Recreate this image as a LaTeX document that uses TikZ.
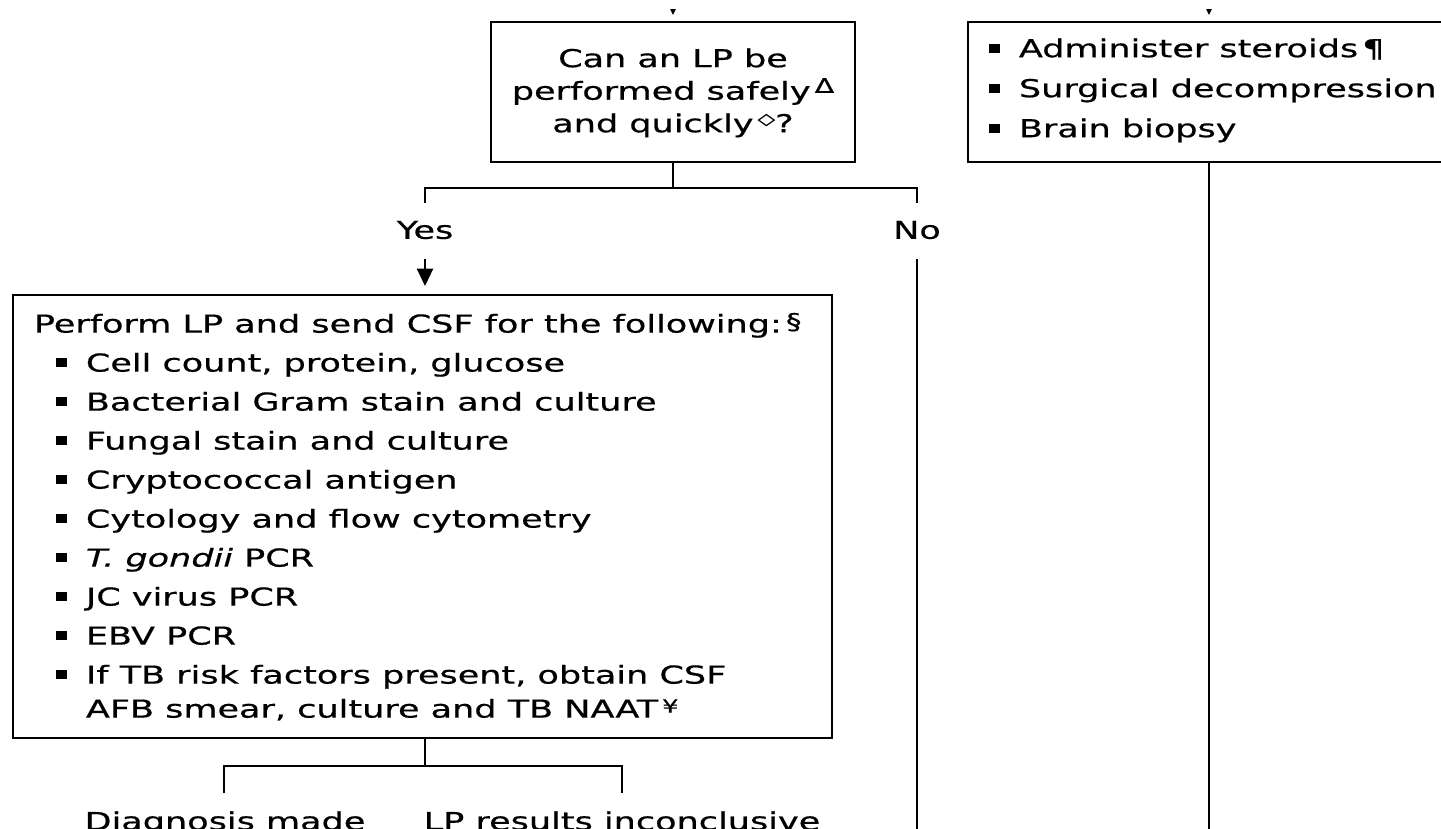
\documentclass[tikz,border=0pt]{standalone}
\usepackage{fontspec}
\setmainfont{DejaVu Sans}[FakeStretch=1.42,FakeBold=0.6]
\usetikzlibrary{arrows.meta}
\newcommand\bsq{\raisebox{3.2pt}{\rule{8pt}{7pt}}}
\newcommand\itm{\makebox[22.5pt][l]{\bsq}}
\newcommand\supx[3]{\raisebox{#2}{\fontsize{#1}{#1}\selectfont #3}}
\begin{document}
\begin{tikzpicture}[x=0.75pt,y=-0.75pt,line width=1.4pt,
  box/.style={draw,line width=1.4pt,inner sep=0pt},
  txt/.style={inner sep=0pt,font=\fontsize{18.5}{24.4}\selectfont},
  lst/.style={inner sep=0pt,align=left,font=\fontsize{18.5}{25.5}\selectfont},
  arr/.style={-{Triangle[width=12pt,length=13pt]}}]
\useasboundingbox (0,0) rectangle (1441,828);
\clip (0,0) rectangle (1441,828);
% boxes
\node[box,minimum width=273pt,minimum height=105pt] (q) at (673,92) {};
\node[box,minimum width=361.5pt,minimum height=105pt] (r) at (1209,92) {};
\node[box,minimum width=614.25pt,minimum height=332.25pt] (csf) at (422.5,516.5) {};
% texts
\node[txt,align=center,anchor=north] (qt) at (673,47.5)
  {Can an LP be\\performed safely\,\supx{15}{5.2pt}{Δ}\\and quickly\,\supx{12}{6pt}{◇}?};
\node[lst,anchor=north west,font=\fontsize{18.5}{24.4}\selectfont] (rt) at (988,37.5)
  {\itm Administer steroids\,¶\\[5.6pt]\itm Surgical decompression\\[5.6pt]\itm Brain biopsy};
\node[lst,anchor=north west] (ct) at (33,312)
  {Perform LP and send CSF for the following:\,\supx{16.5}{2.5pt}{§}\\[3.75pt]
   \hspace*{16.5pt}\itm Cell count, protein, glucose\\[3.75pt]
   \hspace*{16.5pt}\itm Bacterial Gram stain and culture\\[3.75pt]
   \hspace*{16.5pt}\itm Fungal stain and culture\\[3.75pt]
   \hspace*{16.5pt}\itm Cryptococcal antigen\\[3.75pt]
   \hspace*{16.5pt}\itm Cytology and flow cytometry\\[3.75pt]
   \hspace*{16.5pt}\itm \textit{T. gondii} PCR\\[3.75pt]
   \hspace*{16.5pt}\itm JC virus PCR\\[3.75pt]
   \hspace*{16.5pt}\itm EBV PCR\\[3.75pt]
   \hspace*{16.5pt}\itm If TB risk factors present, obtain CSF\\
   \hspace*{39pt}AFB smear, culture and TB NAAT\,\supx{13.5}{3.75pt}{¥}};
\node[txt] (yes) at (425,230) {Yes};
\node[txt] (no) at (917,230) {No};
\node[txt,anchor=base] (dx) at (225,830) {Diagnosis made};
\node[txt,anchor=base] (inc) at (622,830) {LP results inconclusive};
% incoming arrows (only their tips show)
\coordinate (qin) at (673,-40);
\coordinate (rin) at (1209,-40);
\begin{scope}
\clip (0,9) rectangle (1441,40);
\draw[arr,shorten >=4.5pt] (qin) -- (q.north);
\draw[arr,shorten >=4.5pt] (rin) -- (r.north);
\end{scope}
% split under question
\coordinate (qj) at (673,188);
\coordinate (yl) at (425,203);
\coordinate (nl) at (917,203);
\draw (q.south) -- (qj);
\draw (yl) |- (qj) -| (nl);
% yes arrow
\draw[arr,shorten <=14pt,shorten >=6pt] (yes.south) -- (csf.north -| yes.south);
% no line
\coordinate (nend) at (917,850);
\draw[shorten <=14pt] (no.south) -- (nend);
% right column line
\coordinate (rend) at (1209,850);
\draw (r.south) -- (rend);
% split under CSF box
\coordinate (cj) at (425,766);
\coordinate (dl) at (224,793);
\coordinate (il) at (622,793);
\draw (csf.south -| cj) -- (cj);
\draw (dl) |- (cj) -| (il);
\end{tikzpicture}
\end{document}
